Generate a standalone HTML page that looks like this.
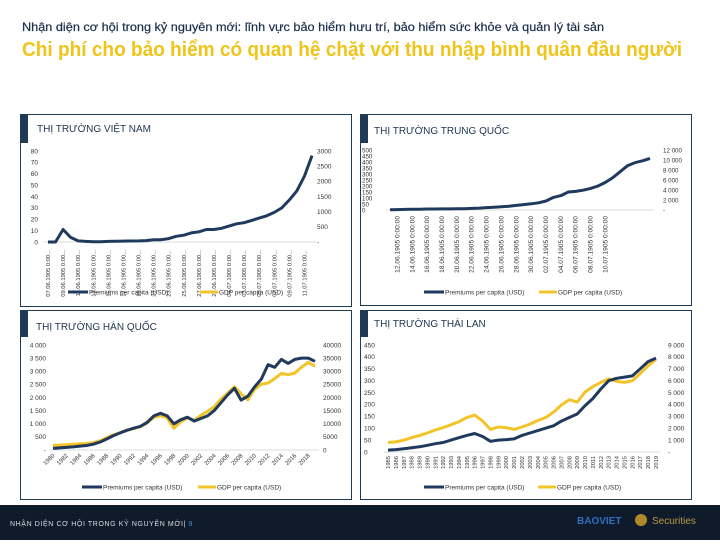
<!DOCTYPE html>
<html><head><meta charset="utf-8">
<style>
html,body{margin:0;padding:0;background:#fff;}
body{width:720px;height:540px;overflow:hidden;font-family:"Liberation Sans",sans-serif;}
svg text{font-family:"Liberation Sans","Noto Sans CJK SC",sans-serif;}
</style></head>
<body>
<svg id="root" width="720" height="540" viewBox="0 0 720 540" xmlns="http://www.w3.org/2000/svg">
  <text x="22" y="31" font-size="12" fill="#1a2f4a" stroke="#1a2f4a" stroke-width="0.2" textLength="582" lengthAdjust="spacingAndGlyphs">Nhận diện cơ hội trong kỷ nguyên mới: lĩnh vực bảo hiểm hưu trí, bảo hiểm sức khỏe và quản lý tài sản</text>
  <text x="22" y="56" font-size="20" font-weight="bold" fill="#f0c419" textLength="660" lengthAdjust="spacingAndGlyphs">Chi phí cho bảo hiểm có quan hệ chặt với thu nhập bình quân đầu người</text>

  <g>
    <rect x="20.5" y="114.5" width="331" height="192" fill="none" stroke="#1f3a55"/>
    <rect x="20" y="114" width="8" height="29" fill="#1f3a55"/>
    <text x="37" y="132" font-size="10" fill="#1f3550">THỊ TRƯỜNG VIỆT NAM</text>
  </g>
  <g>
    <rect x="360.5" y="114.5" width="331" height="191" fill="none" stroke="#1f3a55"/>
    <rect x="360" y="114" width="8" height="29" fill="#1f3a55"/>
    <text x="374" y="134" font-size="10" fill="#1f3550">THỊ TRƯỜNG TRUNG QUỐC</text>
  </g>
  <g>
    <rect x="20.5" y="310.5" width="331" height="189" fill="none" stroke="#1f3a55"/>
    <rect x="20" y="310" width="8" height="27" fill="#1f3a55"/>
    <text x="36" y="330" font-size="10" fill="#1f3550">THỊ TRƯỜNG HÀN QUỐC</text>
  </g>
  <g>
    <rect x="360.5" y="310.5" width="331" height="189" fill="none" stroke="#1f3a55"/>
    <rect x="360" y="310" width="8" height="27" fill="#1f3a55"/>
    <text x="374" y="327" font-size="10" fill="#1f3550">THỊ TRƯỜNG THÁI LAN</text>
  </g>

  <g>
    <rect x="0" y="505" width="720" height="35" fill="#0f1b2a"/>
    <text x="10" y="526" font-size="7" fill="#d8dde4" letter-spacing="0.6">NHẬN DIỆN CƠ HỘI TRONG KỶ NGUYÊN MỚI| <tspan fill="#4a8fd0">9</tspan></text>
    <text x="577" y="524" font-size="10" font-weight="bold" fill="#2f6fc0">BAOVIET</text>
    <circle cx="641" cy="520" r="6" fill="#b08a2a"/>
    <text x="652" y="524" font-size="10" fill="#b79a45">Securities</text>
  </g>
  <g id="charts"></g>
</svg>
<script>
// ---------- Vietnam ----------
const vnLabels = ["07.06.1905 0:00...","09.06.1905 0:00...","11.06.1905 0:00...","13.06.1905 0:00...","15.06.1905 0:00...","17.06.1905 0:00...","19.06.1905 0:00...","21.06.1905 0:00...","23.06.1905 0:00...","25.06.1905 0:00...","27.06.1905 0:00...","29.06.1905 0:00...","01.07.1905 0:00...","03.07.1905 0:00...","05.07.1905 0:00...","07.07.1905 0:00...","09.07.1905 0:00...","11.07.1905 0:00..."];
const vnPremiums = [0,0,11,4,1,0.5,0.3,0.3,0.5,0.7,0.8,0.9,1,1.2,2,2,3,5,6,8,9,11,11,12,14,16,17,19,21,23,26,30,37,45,58,76];
const vnLeftTicks = ["0","10","20","30","40","50","60","70","80"];
const vnRightTicks = ["-","500","1000","1500","2000","2500","3000"];

// ---------- China ----------
const cnLabels = ["12.06.1905 0:00:00","14.06.1905 0:00:00","16.06.1905 0:00:00","18.06.1905 0:00:00","20.06.1905 0:00:00","22.06.1905 0:00:00","24.06.1905 0:00:00","26.06.1905 0:00:00","28.06.1905 0:00:00","30.06.1905 0:00:00","02.07.1905 0:00:00","04.07.1905 0:00:00","06.07.1905 0:00:00","08.07.1905 0:00:00","10.07.1905 0:00:00"];
const cnPremiums = [2,3,5,6,7,8,8,9,9,10,11,13,16,20,23,27,32,38,45,52,60,75,105,120,150,155,165,180,200,230,270,320,370,395,410,430];
const cnLeftTicks = ["0","50","100","150","200","250","300","350","400","450","500"];
const cnRightTicks = ["-","2 000","4 000","6 000","8 000","10 000","12 000"];

// ---------- Korea ----------
const krYears = [1980,1981,1982,1983,1984,1985,1986,1987,1988,1989,1990,1991,1992,1993,1994,1995,1996,1997,1998,1999,2000,2001,2002,2003,2004,2005,2006,2007,2008,2009,2010,2011,2012,2013,2014,2015,2016,2017,2018,2019];
const krPremiums = [60,80,100,120,150,170,220,300,420,550,650,750,830,900,1050,1300,1400,1300,1000,1150,1250,1100,1200,1300,1500,1800,2100,2350,1900,2050,2400,2700,3250,3150,3450,3300,3450,3500,3500,3380];
const krGdp = [1700,1880,2000,2200,2400,2480,2830,3500,4700,5800,6600,7600,8100,8900,10300,12400,13100,12200,8300,10700,12200,11300,13200,14700,16500,19400,21700,24100,21400,19100,23100,25100,25500,27200,29200,28700,29300,31600,33400,31900];
const krLeftTicks = ["-","500","1 000","1 500","2 000","2 500","3 000","3 500","4 000"];
const krRightTicks = ["0","5000","10000","15000","20000","25000","30000","35000","40000"];

// ---------- Thailand ----------
const thYears = [1985,1986,1987,1988,1989,1990,1991,1992,1993,1994,1995,1996,1997,1998,1999,2000,2001,2002,2003,2004,2005,2006,2007,2008,2009,2010,2011,2012,2013,2014,2015,2016,2017,2018,2019];
const thPremiums = [8,10,14,18,22,28,35,40,50,60,70,78,65,45,50,52,55,70,80,90,100,110,130,145,160,195,225,265,300,310,315,320,350,380,395];
const thGdp = [800,850,1000,1200,1400,1600,1850,2050,2300,2550,2900,3100,2600,1900,2100,2050,1900,2100,2350,2650,2900,3350,3950,4400,4200,5050,5500,5850,6150,5950,5850,6000,6600,7250,7800];
const thLeftTicks = ["0","50","100","150","200","250","300","350","400","450"];
const thRightTicks = ["-","1 000","2 000","3 000","4 000","5 000","6 000","7 000","8 000","9 000"];

const NS = "http://www.w3.org/2000/svg";
const root = document.getElementById("charts");
const DARK = "#1f3a5c", GOLD = "#f2c428";
function mk(tag, attrs, parent){
  const e = document.createElementNS(NS, tag);
  for (const k in attrs) e.setAttribute(k, attrs[k]);
  (parent||root).appendChild(e);
  return e;
}
function txt(parent, x, y, s, size, anchor, fill, rot){
  const t = mk("text", {x:x, y:y, "font-size":size, "text-anchor":anchor||"start", fill:fill||"#333"}, parent);
  if (rot) t.setAttribute("transform", "rotate("+rot+" "+x+" "+y+")");
  t.textContent = s;
  return t;
}
function linePath(vals, xf, yf){
  return vals.map((v,i)=>(i?"L":"M")+xf(i).toFixed(1)+" "+yf(v).toFixed(1)).join(" ");
}

function chart(c){
  const g = mk("g", {});
  
  
  const n = c.n;
  const xf = i => c.x0 + (c.x1 - c.x0) * i / (n - 1);
  const yl = v => c.y0 - (c.y0 - c.yTop) * v / c.leftMax;
  const yr = v => c.y0 - (c.y0 - c.yTop) * v / c.rightMax;
  const bl = mk("line", {x1:c.x0-4, x2:c.x1+4, y1:c.y0, y2:c.y0, stroke:"#d0d0d0", "stroke-width":0.8}, g);
  
  
  c.leftTicks.forEach((s,i)=>{
    const v = c.leftMax * i / (c.leftTicks.length - 1);
    const t = txt(g, c.lx, yl(v)+2.3, s, c.fs, c.lAnchor, "#333");
    
    
  });
  c.rightTicks.forEach((s,i)=>{
    const v = c.rightMax * i / (c.rightTicks.length - 1);
    const t = txt(g, c.rx, yr(v)+2.3, s, c.fs, "start", "#333");
    
    
  });
  c.labels.forEach((s,i)=>{
    const idx = c.labelIdx(i);
    const x = xf(idx);
    const t = txt(g, x+2, c.ly, s, c.xfs, "end", "#333", c.rot);
    
    
  });
  if (c.gdp){
    const p2 = mk("path", {d:linePath(c.gdp, xf, yr), fill:"none", stroke:GOLD, "stroke-width":3, "stroke-linejoin":"round"}, g);
    
    
  }
  const p1 = mk("path", {d:linePath(c.prem, xf, yl), fill:"none", stroke:DARK, "stroke-width":3, "stroke-linejoin":"round"}, g);
  
  
  const lg = mk("g", {}, g);
  
  
  const e1 = mk("line", {x1:c.legX, x2:c.legX+20, y1:c.legY, y2:c.legY, stroke:DARK, "stroke-width":3}, lg);
  
  
  const t1 = txt(lg, c.legX+21, c.legY+2.3, "Premiums per capita (USD)", 6.5, "start", "#333");
  
  
  const e2 = mk("line", {x1:c.legX2, x2:c.legX2+18, y1:c.legY, y2:c.legY, stroke:GOLD, "stroke-width":3}, lg);
  
  
  const t2 = txt(lg, c.legX2+19, c.legY+2.3, "GDP per capita (USD)", 6.5, "start", "#333");
  
  
}

chart({name:"chart-vietnam", n:vnPremiums.length, x0:48, x1:312, yTop:151, y0:242,
  leftMax:80, rightMax:3000, leftTicks:vnLeftTicks, rightTicks:vnRightTicks,
  lx:38, lAnchor:"end", rx:317, fs:6.5,
  labels:vnLabels, labelIdx:i=>i*2, rot:-90, ly:250, xfs:5.8,
  prem:vnPremiums, gdp:null, legX:68, legX2:200, legY:292});

chart({name:"chart-china", n:cnPremiums.length, x0:390, x1:650, yTop:150, y0:210,
  leftMax:500, rightMax:12000, leftTicks:cnLeftTicks, rightTicks:cnRightTicks,
  lx:362, lAnchor:"start", rx:663, fs:6.2,
  labels:cnLabels, labelIdx:i=>i*2+1, rot:-90, ly:216, xfs:6.6,
  prem:cnPremiums, gdp:null, legX:424, legX2:539, legY:292});

chart({name:"chart-korea", n:krYears.length, x0:53, x1:315, yTop:345, y0:450,
  leftMax:4000, rightMax:40000, leftTicks:krLeftTicks, rightTicks:krRightTicks,
  lx:46, lAnchor:"end", rx:323, fs:6.5,
  labels:krYears.filter((y,i)=>i%2===0).map(String), labelIdx:i=>i*2, rot:-45, ly:456, xfs:6,
  prem:krPremiums, gdp:krGdp, legX:82, legX2:198, legY:487});

chart({name:"chart-thailand", n:thYears.length, x0:388, x1:656, yTop:345, y0:452,
  leftMax:450, rightMax:9000, leftTicks:thLeftTicks, rightTicks:thRightTicks,
  lx:364, lAnchor:"start", rx:668, fs:6.5,
  labels:thYears.map(String), labelIdx:i=>i, rot:-90, ly:456, xfs:5.8,
  prem:thPremiums, gdp:thGdp, legX:424, legX2:538, legY:487});
</script>
</body></html>
